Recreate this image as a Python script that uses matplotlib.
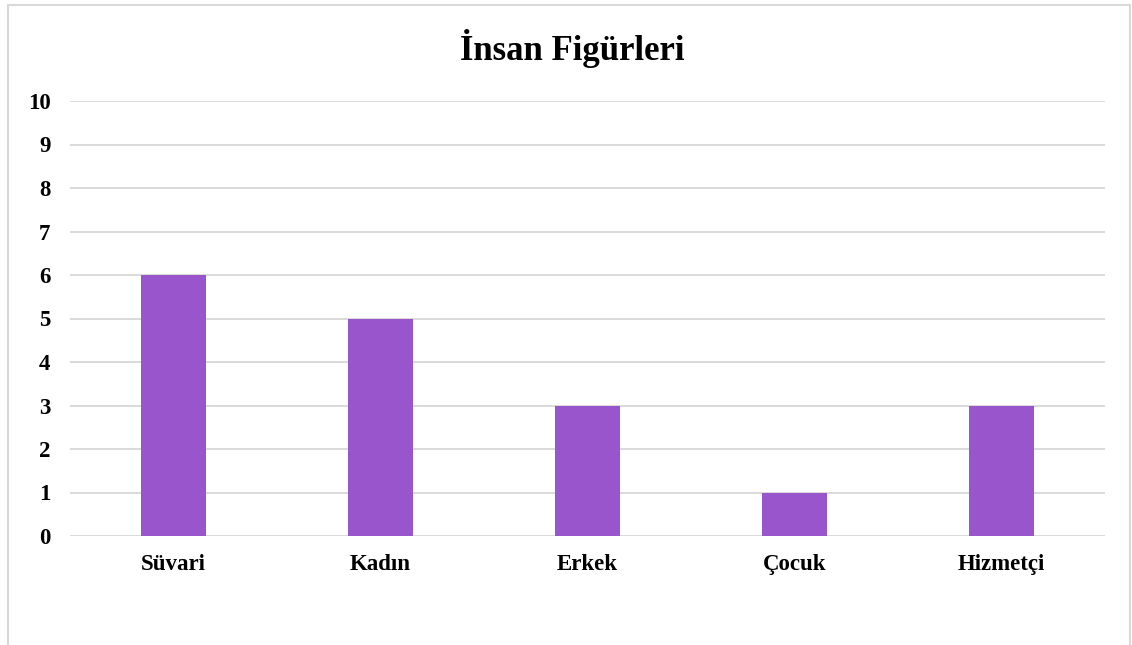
import matplotlib.pyplot as plt
from matplotlib.patches import Rectangle

categories = ['Süvari', 'Kadın', 'Erkek', 'Çocuk', 'Hizmetçi']
counts = [6, 5, 3, 1, 3]
yticks = list(range(0, 11))

plt.rcParams['font.family'] = ['Liberation Serif', 'DejaVu Serif']
plt.rcParams['font.weight'] = 'bold'

W, H = 1132, 645
fig = plt.figure(figsize=(W / 100, H / 100), dpi=100)
ax = fig.add_axes([70 / W, 1 - 536 / H, (1105 - 70) / W, (536 - 101) / H])

# outer chart border (bottom is cut off in the reference)
fig.patches.append(Rectangle((8 / W, -0.05), (1130 - 8) / W, 1.05 - 5 / H,
                             transform=fig.transFigure, fill=False,
                             edgecolor='#D9D9D9', linewidth=1.5))

x = range(len(categories))
ax.bar(x, counts, width=0.315, color='#9955CC', zorder=3)

ax.set_xlim(-0.5, len(categories) - 0.5)
ax.set_ylim(0, 10)
ax.set_yticks(yticks)
ax.set_xticks(list(x))
ax.set_xticklabels(categories)
ax.grid(axis='y', color='#D9D9D9', linewidth=1.4, zorder=0)
for s in ax.spines.values():
    s.set_visible(False)
ax.tick_params(length=0, labelsize=16.5)
ax.tick_params(axis='y', pad=14)
ax.tick_params(axis='x', pad=13)
for lbl in ax.get_xticklabels() + ax.get_yticklabels():
    lbl.set_fontweight('bold')

fig.text(572 / W, 1 - 48 / H, 'İnsan Figürleri', ha='center', va='center',
         fontsize=25, fontweight='bold')

fig.savefig('out.png', dpi=100, facecolor='white')
